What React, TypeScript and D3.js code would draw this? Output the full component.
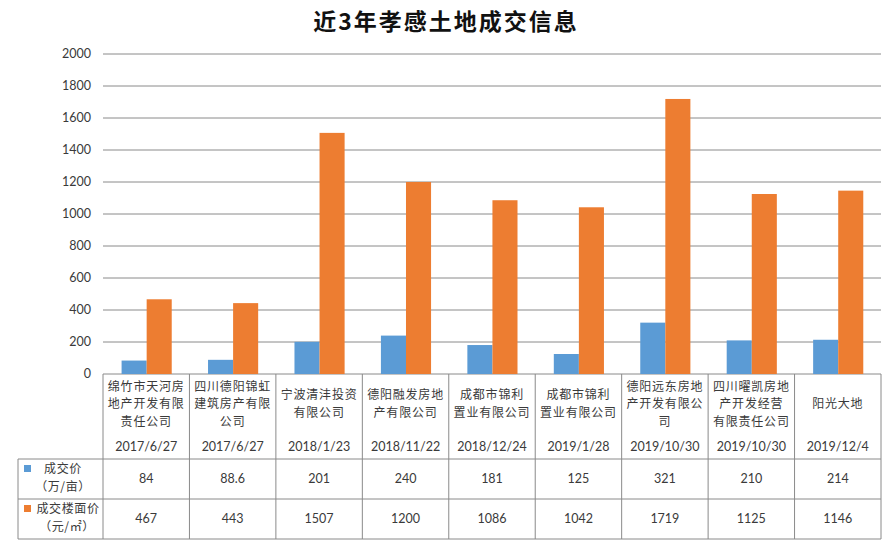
import React from "react";
import { scaleBand, scaleLinear } from "d3";

const companies = [
  "绵竹市天河房\n地产开发有限\n责任公司",
  "四川德阳锦虹\n建筑房产有限\n公司",
  "宁波清沣投资\n有限公司",
  "德阳融发房地\n产有限公司",
  "成都市锦利\n置业有限公司",
  "成都市锦利\n置业有限公司",
  "德阳远东房地\n产开发有限公\n司",
  "四川曜凯房地\n产开发经营\n有限责任公司",
  "阳光大地",
];
const dates = [
  "2017/6/27",
  "2017/6/27",
  "2018/1/23",
  "2018/11/22",
  "2018/12/24",
  "2019/1/28",
  "2019/10/30",
  "2019/10/30",
  "2019/12/4",
];
const dealPrice = [84, 88.6, 201, 240, 181, 125, 321, 210, 214];
const floorPrice = [467, 443, 1507, 1200, 1086, 1042, 1719, 1125, 1146];
const seriesNames = [["成交价", "（万/亩）"], ["成交楼面价", "（元/㎡）"]];

const W = 894;
const H = 546;
const FONT = "'Noto Sans CJK SC', 'Noto Sans', sans-serif";
const NUM = "Lato, 'Open Sans', sans-serif";
const BLUE = "#5B9BD5";
const ORANGE = "#ED7D31";
const LINE = "#8a8a8a";
const TXT = "#3a3a3a";

export default function App() {
  const left = 103, right = 881, top = 54, bottom = 374;
  const rowTop = 459, rowMid = 499, rowBot = 539, tableLeft = 18;

  const x = scaleBand<number>()
    .domain(companies.map((_, i) => i))
    .range([left, right]);
  const y = scaleLinear().domain([0, 2000]).range([bottom, top]);
  const sub = scaleBand<number>()
    .domain([0, 1])
    .range([x.bandwidth() * 0.215, x.bandwidth() * 0.795]);
  const series = [dealPrice, floorPrice];
  const colors = [BLUE, ORANGE];
  const bw = x.bandwidth();

  return (
    <svg width={W} height={H} style={{ position: "absolute", left: 0, top: 0, background: "#fff" }}>
      <text x={446} y={30} textAnchor="middle" fontFamily={FONT} fontWeight="bold"
        fontSize={23} letterSpacing={2} fill="#111">近3年孝感土地成交信息</text>

      {/* gridlines + y labels */}
      {y.ticks(10).map(t => (
        <g key={t}>
          <line x1={left} x2={right} y1={y(t)} y2={y(t)} stroke={LINE} strokeWidth={1} />
          <text x={91} y={y(t)} dy="0.35em" textAnchor="end" fontFamily={NUM}
            fontSize={12.5} fill={TXT}>{t}</text>
        </g>
      ))}

      {/* bars */}
      {series.map((vals, s) =>
        vals.map((v, i) => (
          <rect key={s + "-" + i} x={(x(i) as number) + (sub(s) as number)} y={y(v)}
            width={sub.bandwidth()} height={bottom - y(v)} fill={colors[s]} />
        ))
      )}

      {/* table lines */}
      {x.domain().concat([companies.length]).map(i => {
        const xx = i < companies.length ? (x(i) as number) : right;
        return <line key={"v" + i} x1={xx} x2={xx} y1={bottom} y2={rowBot} stroke={LINE} />;
      })}
      <line x1={tableLeft} x2={tableLeft} y1={rowTop} y2={rowBot} stroke={LINE} />
      {[rowTop, rowMid, rowBot].map(yy => (
        <line key={"h" + yy} x1={tableLeft} x2={right} y1={yy} y2={yy} stroke={LINE} />
      ))}

      {/* category + date labels */}
      {companies.map((c, i) => {
        const lines = c.split("\n");
        const cx = (x(i) as number) + bw / 2;
        const lh = 17.5;
        const y0 = 404 - ((lines.length - 1) * lh) / 2;
        return (
          <g key={"c" + i} fill={TXT} textAnchor="middle">
            {lines.map((l, k) => (
              <text key={k} x={cx} y={y0 + k * lh} dy="0.35em" fontFamily={FONT}
                fontSize={12} letterSpacing={0.8}>{l}</text>
            ))}
            <text x={cx} y={447} dy="0.35em" fontFamily={NUM} fontSize={12.5}>{dates[i]}</text>
            {series.map((vals, s) => (
              <text key={"d" + s} x={cx} y={s === 0 ? 479 : 519} dy="0.35em"
                fontFamily={NUM} fontSize={12.5}>
                {vals[i]}
              </text>
            ))}
          </g>
        );
      })}

      {/* legend column */}
      {seriesNames.map((nm, s) => {
        const ry = s === 0 ? rowTop : rowMid;
        return (
          <g key={"l" + s} fontFamily={FONT} fontSize={12} letterSpacing={0.6} fill={TXT} textAnchor="middle">
            <rect x={24} y={ry + 6} width={7} height={7} fill={colors[s]} />
            <text x={s === 0 ? 63 : 68} y={ry + 10} dy="0.35em">{nm[0]}</text>
            <text x={s === 0 ? 63 : 67} y={ry + 27.5} dy="0.35em">{nm[1]}</text>
          </g>
        );
      })}
    </svg>
  );
}
